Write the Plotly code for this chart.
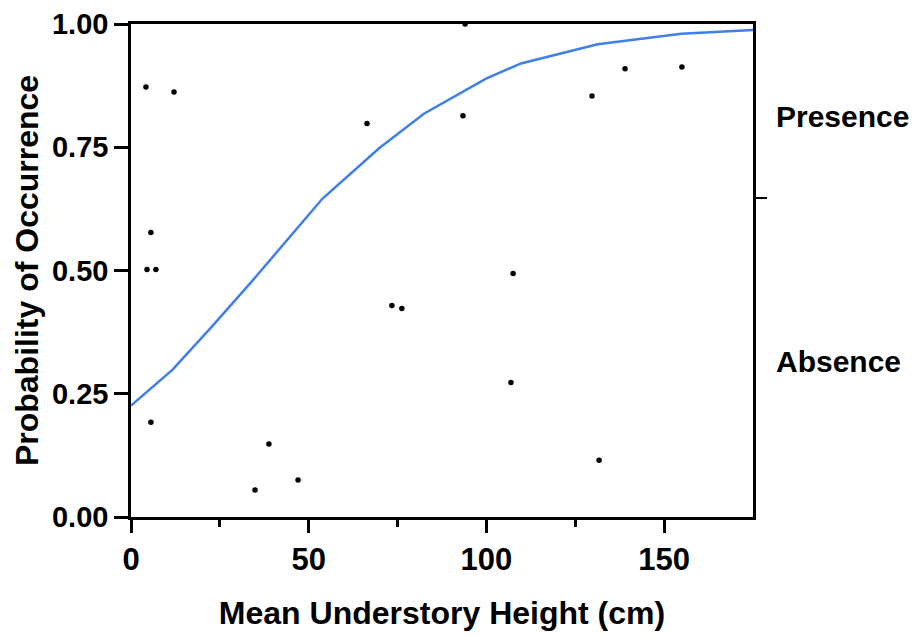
import plotly.graph_objects as go

# Observed points
obs_x = [4.2, 12.1, 5.6, 4.5, 7.0, 5.6, 34.9, 38.8, 47.0, 66.4, 73.4, 76.2,
         93.4, 94.0, 107.5, 106.9, 129.7, 131.7, 139.0, 155.0]
obs_y = [0.872, 0.862, 0.577, 0.502, 0.502, 0.192, 0.055, 0.148, 0.075, 0.798,
         0.429, 0.423, 0.814, 1.000, 0.494, 0.273, 0.854, 0.115, 0.909, 0.913]

# Fitted curve (vertices)
fit_x = [0, 11.7, 22.5, 34.0, 53.9, 69.8, 82.4, 99.9, 109.7, 131.3, 154.8, 175]
fit_y = [0.226, 0.299, 0.384, 0.478, 0.646, 0.748, 0.818, 0.889, 0.920, 0.959, 0.980, 0.988]

x_ticks = [0, 50, 100, 150]
y_ticks = [0.0, 0.25, 0.5, 0.75, 1.0]
y_ticktext = ["0.00", "0.25", "0.50", "0.75", "1.00"]
side_labels = ["Absence", "Presence"]
side_label_pos = [0.316, 0.812]
cut_point = [0.648]

FONT = "Liberation Sans, Arial, sans-serif"

fig = go.Figure()
fig.add_trace(go.Scatter(x=fit_x, y=fit_y, mode="lines",
                         line=dict(color="#3f7fe8", width=2.5),
                         showlegend=False, cliponaxis=False))
fig.add_trace(go.Scatter(x=obs_x, y=obs_y, mode="markers",
                         marker=dict(color="black", size=5.5, symbol="circle"),
                         showlegend=False, cliponaxis=False))
# dummy trace for right axis
fig.add_trace(go.Scatter(x=[None], y=[None], yaxis="y2", showlegend=False))

fig.update_layout(
    width=923, height=637,
    margin=dict(l=123, r=178, t=16, b=128),
    paper_bgcolor="white", plot_bgcolor="white",
    font=dict(family=FONT, color="black"),
    xaxis=dict(
        range=[0, 175], showgrid=False, zeroline=False, automargin=False,
        showline=True, linecolor="black", linewidth=2.5, mirror=True,
        tickvals=x_ticks, ticks="outside", ticklen=13, tickwidth=2.5, tickcolor="black",
        tickfont=dict(family=FONT, size=31, color="black", weight="bold"),
        minor=dict(tickmode="array", tickvals=[25, 75, 125], ticks="outside",
                   ticklen=7, tickwidth=2.5, tickcolor="black"),
        title=dict(text="<b>Mean Understory Height (cm)</b>",
                   font=dict(family=FONT, size=32, color="black"), standoff=26),
    ),
    yaxis=dict(
        range=[0, 1], showgrid=False, zeroline=False, automargin=False,
        showline=True, linecolor="black", linewidth=2.5, mirror=True,
        tickvals=y_ticks, ticktext=y_ticktext, ticks="outside", ticklen=14,
        tickwidth=2.5, tickcolor="black",
        tickfont=dict(family=FONT, size=29, color="black", weight="bold"),
        ticklabeloverflow="allow",
        title=dict(text="<b>Probability of Occurrence</b>",
                   font=dict(family=FONT, size=32, color="black"), standoff=4),
    ),
    yaxis2=dict(
        overlaying="y", side="right", range=[0, 1], showgrid=False, zeroline=False,
        automargin=False,
        showline=False, tickvals=side_label_pos, ticktext=side_labels, ticks="",
        ticklabelstandoff=22,
        tickfont=dict(family=FONT, size=30, color="black", weight="bold"),
        minor=dict(tickmode="array", tickvals=cut_point, ticks="outside",
                   ticklen=13, tickwidth=2, tickcolor="black"),
    ),
)

fig.write_html("out.html")
